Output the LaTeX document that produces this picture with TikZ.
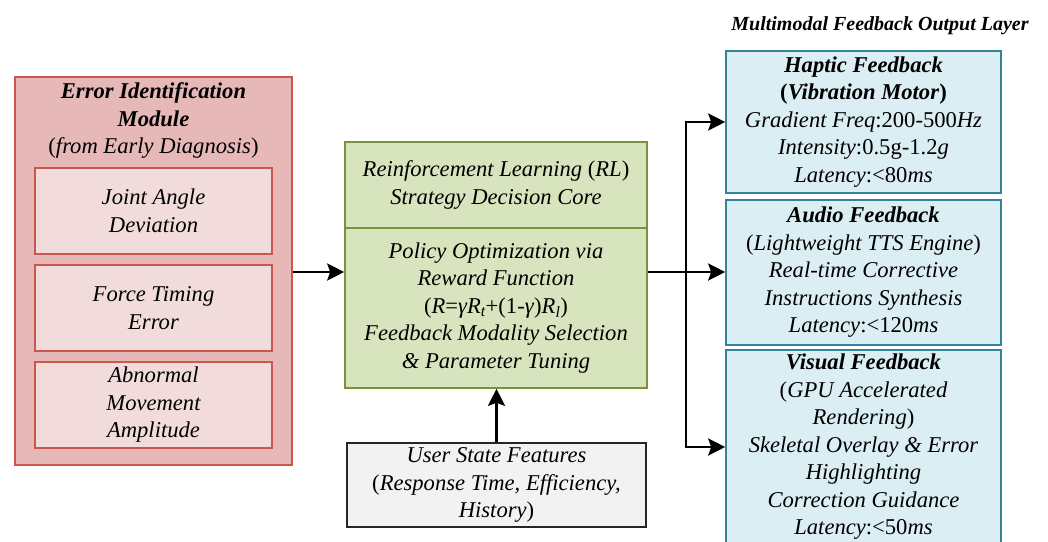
\documentclass[tikz,border=0pt]{standalone}
\usepackage{fontspec}
\setmainfont{Liberation Serif}
\usetikzlibrary{arrows.meta}
\definecolor{redout}{HTML}{E6B9B8}
\definecolor{redin}{HTML}{F2DCDB}
\definecolor{redline}{HTML}{C9574E}
\definecolor{grfill}{HTML}{D7E4BD}
\definecolor{grline}{HTML}{77933C}
\definecolor{blfill}{HTML}{DBEEF4}
\definecolor{blline}{HTML}{31849B}
\definecolor{gyfill}{HTML}{F2F2F2}
\definecolor{gyline}{HTML}{262626}
\tikzset{
  base/.style={inner sep=0pt, align=center, font=\fontsize{22.6}{27.5}\selectfont\itshape, line width=1.6pt},
  outerbox/.style={base, draw=redline, fill=redout},
  innerbox/.style={base, draw=redline, fill=redin, minimum width=237pt, minimum height=86pt},
  greenbox/.style={base, draw=grline, fill=grfill, minimum width=302pt},
  bluebox/.style={base, draw=blline, fill=blfill, minimum width=275pt},
  graybox/.style={base, draw=gyline, fill=gyfill, minimum width=299pt, minimum height=84pt},
  label/.style={base},
  arr/.style={line width=2.8pt, -{Stealth[length=17pt,width=17pt,inset=3pt]}},
}
\begin{document}
\begin{tikzpicture}[x=1pt,y=-1pt]
\useasboundingbox (0,0) rectangle (1048,541);
% left module
\node[outerbox, minimum width=277pt, minimum height=388pt] (err) at (153.5,271) {};
\node[label] (errt) at (153.5,120.5) {\textbf{Error Identification}\\\textbf{Module}\\\textup{(}from Early Diagnosis\textup{)}};
\node[innerbox] (e1) at (153.5,211) {Joint Angle\\Deviation};
\node[innerbox] (e2) at (153.5,308) {Force Timing\\Error};
\node[innerbox] (e3) at (153.5,405) {Abnormal\\Movement\\Amplitude};
% RL core
\node[greenbox, minimum height=86pt] (rla) at (496,185) {Reinforcement Learning \textup{(}RL\textup{)}\\Strategy Decision Core};
\node[greenbox, minimum height=160pt] (rlb) at (496,308) {Policy Optimization via\\Reward Function\\\textup{(}R\textup{=}γR\textsubscript{\textit{t}}\textup{+(1-}γ\textup{)}R\textsubscript{\textit{l}}\textup{)}\\Feedback Modality Selection\\\& Parameter Tuning};
% user state
\node[graybox] (user) at (496.5,485) {User State Features\\\textup{(}Response Time, Efficiency,\\History\textup{)}};
% outputs
\node[label, font=\fontsize{20}{24}\selectfont\bfseries\itshape] (title) at (880,26) {Multimodal Feedback Output Layer};
\node[bluebox, minimum height=142pt] (hap) at (863.5,122) {\textbf{Haptic Feedback}\\\textbf{\textup{(}Vibration Motor\textup{)}}\\Gradient Freq\textup{:200-500}Hz\\Intensity\textup{:0.5g-1.2}g\\Latency\textup{:<80}ms};
\node[bluebox, minimum height=145pt] (aud) at (863.5,272.5) {\textbf{Audio Feedback}\\\textup{(}Lightweight TTS Engine\textup{)}\\Real-time Corrective\\Instructions Synthesis\\Latency\textup{:<120}ms};
\node[bluebox, minimum height=194pt] (vis) at (863.5,447) {\textbf{Visual Feedback}\\\textup{(}GPU Accelerated\\Rendering\textup{)}\\Skeletal Overlay \& Error\\Highlighting\\Correction Guidance\\Latency\textup{:<50}ms};
% connectors
\coordinate (j) at (686,272);
\draw[arr] (err.east |- 0,272) -- (rlb.west |- 0,272);
\draw[line width=2.8pt] (rlb.east |- j) -- (j);
\draw[arr] (j) -- (aud.west |- j);
\draw[arr] (j) |- (hap.west);
\draw[arr] (j) |- (vis.west);
\draw[arr] (user.north) -- (user.north |- rlb.south);
\end{tikzpicture}
\end{document}
